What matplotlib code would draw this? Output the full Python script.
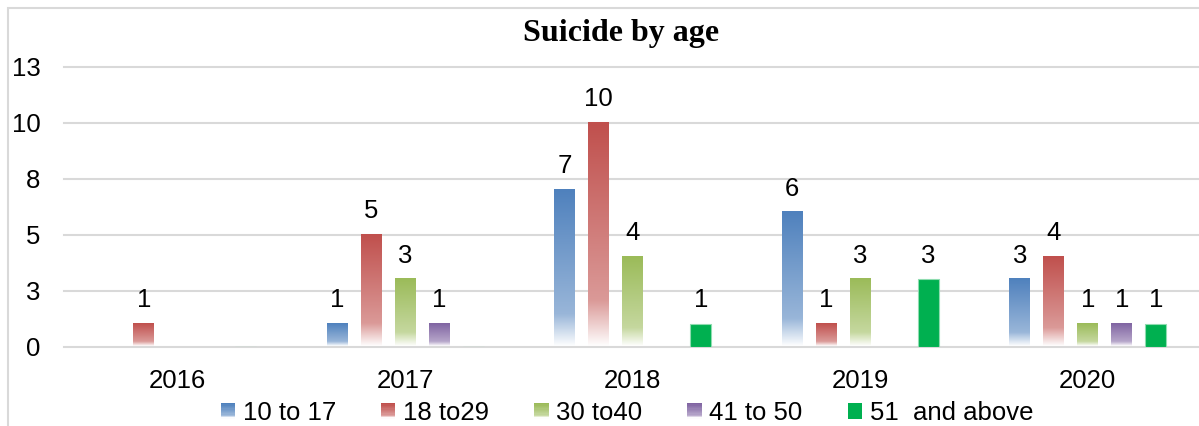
import matplotlib

matplotlib.use("Agg")

import matplotlib.pyplot as plt
import numpy as np
from matplotlib.colors import to_rgb
from matplotlib.legend_handler import HandlerBase
from matplotlib.patches import Patch, Rectangle

plt.rcParams["font.family"] = ["Liberation Sans", "DejaVu Sans"]

years = ["2016", "2017", "2018", "2019", "2020"]
age_groups = ["10 to 17", "18 to29", "30 to40", "41 to 50", "51  and above"]
ages_10_17 = [0, 1, 7, 6, 3]
ages_18_29 = [1, 5, 10, 1, 4]
ages_30_40 = [0, 3, 4, 3, 1]
ages_41_50 = [0, 1, 0, 0, 1]
ages_51_up = [0, 0, 1, 3, 1]

y_ticks = [0, 2.5, 5, 7.5, 10, 12.5]
y_tick_labels = ["0", "3", "5", "8", "10", "13"]

series = [ages_10_17, ages_18_29, ages_30_40, ages_41_50, ages_51_up]
colors = ["#4F81BD", "#C0504D", "#9BBB59", "#8064A2", "#00B050"]
faded = [True, True, True, True, False]

W, H = 1199, 426
FS = 18.5


def fade(color, n=80):
    # strong colour at the top, paler further down, white at the base
    c = np.array(to_rgb(color))
    t = np.linspace(0, 1, n)
    mix = np.where(t < 0.8, 0.42 * t / 0.8, 0.42 + 0.56 * (t - 0.8) / 0.2)
    rgb = c * (1 - mix)[:, None] + mix[:, None]
    return rgb


class FadeHandler(HandlerBase):
    def __init__(self, color, faded):
        super().__init__()
        self.color = color
        self.faded = faded

    def create_artists(self, legend, orig_handle, xdescent, ydescent,
                       width, height, fontsize, trans):
        x0, y0 = -xdescent, -ydescent
        if not self.faded:
            return [Rectangle((x0, y0), width, height, facecolor=self.color,
                              lw=0, transform=trans)]
        n = 12
        rgb = fade(self.color, n)
        out = []
        for k in range(n):
            out.append(Rectangle((x0, y0 + height * (1 - (k + 1) / n)), width,
                                 height / n * 1.05, facecolor=rgb[k], lw=0,
                                 transform=trans))
        return out


fig = plt.figure(figsize=(W / 100, H / 100), dpi=100)
ax = fig.add_axes([64 / W, 79.5 / H, 1137.5 / W, 279.5 / H])

x = np.arange(len(years))
pitch = 0.1495
bar_w = 0.0923

for i, (vals, col, fd) in enumerate(zip(series, colors, faded)):
    pos = x + (i - 2) * pitch
    if fd:
        bars = ax.bar(pos, vals, bar_w, color="none", lw=0, zorder=2)
        grad = fade(col)[:, None, :]
        for rect, v in zip(bars, vals):
            if v <= 0:
                continue
            x0 = rect.get_x()
            ax.imshow(grad, extent=[x0, x0 + bar_w, 0, v], aspect="auto",
                      origin="upper", interpolation="bilinear", zorder=2)
    else:
        ax.bar(pos, vals, bar_w, color=col, edgecolor="#8fdcb0", lw=0.8,
               zorder=2)
    for p, v in zip(pos, vals):
        if v > 0:
            ax.annotate(str(v), (p, v), xytext=(0, 12),
                        textcoords="offset points", ha="center",
                        va="baseline", fontsize=FS)

ax.set_xlim(-0.5, len(years) - 0.5)
ax.set_ylim(0, 12.5)
ax.set_xticks(x, years)
ax.set_yticks(y_ticks, y_tick_labels)
ax.tick_params(axis="both", length=0, labelsize=FS)
ax.tick_params(axis="y", pad=17)
ax.tick_params(axis="x", pad=16)
for s in ax.spines.values():
    s.set_visible(False)
ax.grid(axis="y", color="#d9d9d9", lw=1.5)
ax.set_axisbelow(True)
for gl in ax.get_ygridlines():
    gl.set_clip_on(False)

# chart frame, only top and left edges fall inside the canvas
fig.patches.append(Rectangle((7.5 / W, -0.1), 1.2, (418 / H) + 0.1,
                             transform=fig.transFigure, fill=False,
                             edgecolor="#d9d9d9", lw=1.5))

fig.text(621 / W, (H - 33) / H, "Suicide by age", ha="center", va="center",
         fontsize=23, fontweight="bold",
         family=["Liberation Serif", "DejaVu Serif"])

handles = [Patch(facecolor=c, label=g) for c, g in zip(colors, age_groups)]
hmap = {h: FadeHandler(c, f) for h, c, f in zip(handles, colors, faded)}
fig.legend(handles=handles, handler_map=hmap, loc="center",
           bbox_to_anchor=(627 / W, (H - 413) / H), ncol=5, frameon=False,
           fontsize=FS, handlelength=0.56, handleheight=0.56,
           handletextpad=0.3, columnspacing=1.75, borderpad=0)

fig.savefig("out.png", dpi=100)
